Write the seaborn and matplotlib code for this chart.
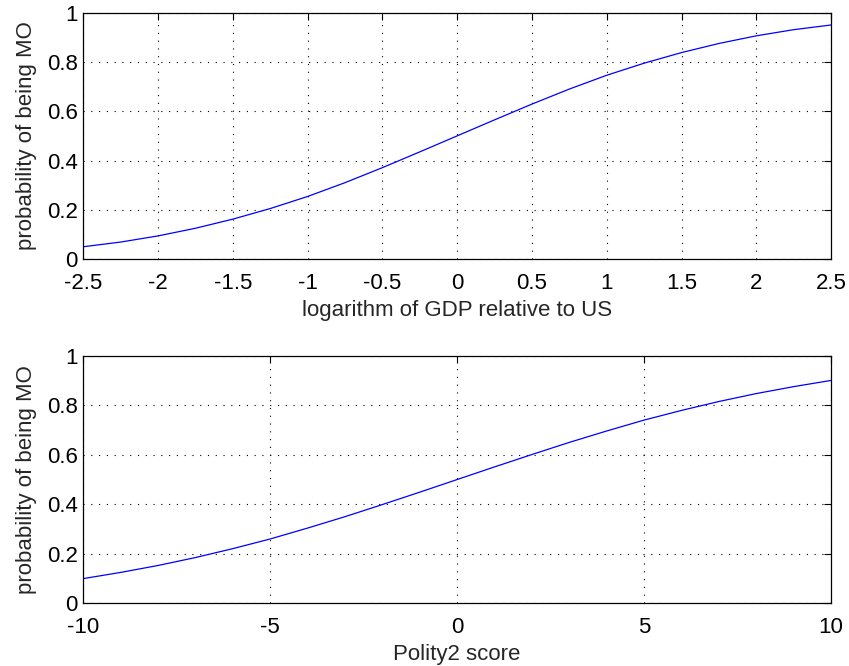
import matplotlib
matplotlib.use("Agg")
import matplotlib.pyplot as plt
import seaborn as sns
import pandas as pd

# ---- data ----
gdp_x = [-2.5, -2.25, -2.0, -1.75, -1.5, -1.25, -1.0, -0.75, -0.5, -0.25, 0.0,
         0.25, 0.5, 0.75, 1.0, 1.25, 1.5, 1.75, 2.0, 2.25, 2.5]
gdp_p = [0.050, 0.069, 0.094, 0.125, 0.162, 0.205, 0.254, 0.310, 0.371, 0.435, 0.500,
         0.565, 0.629, 0.690, 0.746, 0.795, 0.838, 0.875, 0.906, 0.931, 0.950]

pol_x = [-10, -9, -8, -7, -6, -5, -4, -3, -2, -1, 0, 1, 2, 3, 4, 5, 6, 7, 8, 9, 10]
pol_p = [0.100, 0.125, 0.153, 0.185, 0.221, 0.260, 0.304, 0.350, 0.399, 0.449, 0.500,
         0.551, 0.601, 0.650, 0.696, 0.740, 0.779, 0.815, 0.847, 0.875, 0.900]

gdp_ticks = [-2.5, -2, -1.5, -1, -0.5, 0, 0.5, 1, 1.5, 2, 2.5]
gdp_ticklabels = ["-2.5", "-2", "-1.5", "-1", "-0.5", "0", "0.5", "1", "1.5", "2", "2.5"]
pol_ticks = [-10, -5, 0, 5, 10]
pol_ticklabels = ["-10", "-5", "0", "5", "10"]
y_ticks = [0, 0.2, 0.4, 0.6, 0.8, 1]
y_ticklabels = ["0", "0.2", "0.4", "0.6", "0.8", "1"]

ylabel = "probability of being MO"
xlabel_top = "logarithm of GDP relative to US"
xlabel_bottom = "Polity2 score"

sns.set_style("white")
plt.rcParams['font.family'] = ['Liberation Sans', 'DejaVu Sans']
FS = 16

fig = plt.figure(figsize=(8.49, 6.66), dpi=100)
ax1 = fig.add_axes([0.098, 0.611, 0.881, 0.370])
ax2 = fig.add_axes([0.098, 0.094, 0.881, 0.372])

df1 = pd.DataFrame({"x": gdp_x, "p": gdp_p})
df2 = pd.DataFrame({"x": pol_x, "p": pol_p})

panels = [
    (ax1, df1, gdp_ticks, gdp_ticklabels, (-2.5, 2.5), xlabel_top),
    (ax2, df2, pol_ticks, pol_ticklabels, (-10, 10), xlabel_bottom),
]

for ax, df, xt, xtl, xlim, xl in panels:
    sns.lineplot(data=df, x="x", y="p", ax=ax, color=(0, 0, 1), linewidth=0.9,
                 estimator=None, sort=False)
    ax.set_xlim(*xlim)
    ax.set_ylim(0, 1)
    ax.set_xticks(xt)
    ax.set_xticklabels(xtl)
    ax.set_yticks(y_ticks)
    ax.set_yticklabels(y_ticklabels)
    ax.grid(True, linestyle=(0, (1, 6)), color="black", linewidth=0.8)
    ax.set_axisbelow(True)
    ax.tick_params(direction="in", length=5, width=0.8, top=True, right=True,
                   labelsize=FS, colors="black")
    ax.tick_params(axis="x", pad=10)
    ax.tick_params(axis="y", pad=4)
    for s in ax.spines.values():
        s.set_visible(True)
        s.set_color("black")
        s.set_linewidth(0.9)
    ax.set_xlabel(xl, fontsize=FS, labelpad=4)
    ax.set_ylabel(ylabel, fontsize=FS, labelpad=7)

fig.savefig("out.png", dpi=100)
